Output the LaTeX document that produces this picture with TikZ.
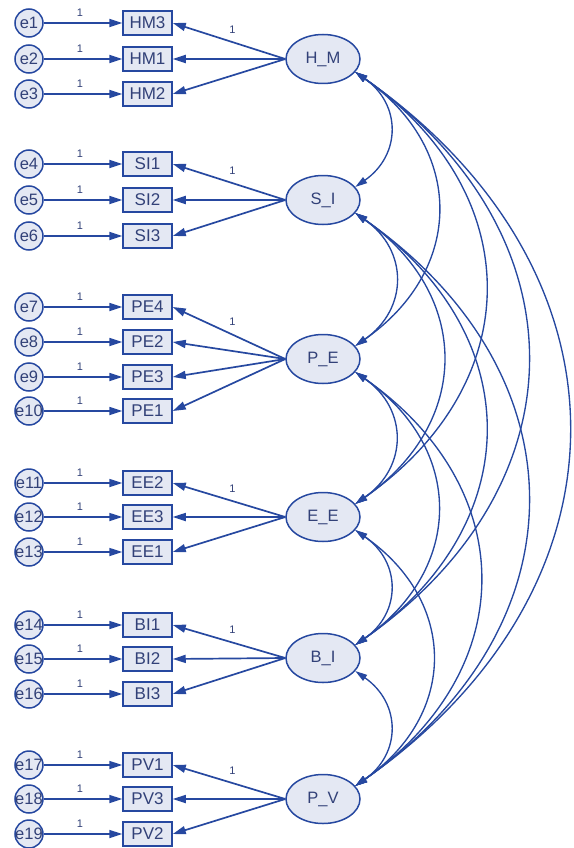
\documentclass[tikz,border=0pt]{standalone}
\usepackage{fontspec}
\setmainfont{Liberation Sans}
\usetikzlibrary{arrows.meta,shapes.geometric}
\definecolor{ln}{RGB}{38,72,160}
\definecolor{fl}{RGB}{228,232,243}
\definecolor{tx}{RGB}{50,65,120}
\newcommand{\indrow}[4]{%
  \node[err] (#1) at (29,#4) {\makebox[0pt]{#2}};
  \node[obs] (#3) at (147.5,#4) {#3};
  \draw[arr] (#1) -- (#3) node[one,pos=0.46,above=6pt]{1};}
\newcommand{\covar}[3]{%
  \draw[cov] (#1.-22) .. controls +({0.4*#3},{0.28*#3}) and +({0.4*#3},{-0.28*#3}) .. (#2.22);}
\begin{document}
\begin{tikzpicture}[x=1pt,y=-1pt,
  obs/.style={draw=ln, fill=fl, line width=1.5pt, minimum width=49pt, minimum height=24pt, inner sep=0pt, text=tx, font=\fontsize{17}{17}\selectfont},
  lat/.style={ellipse, draw=ln, fill=fl, line width=1.5pt, minimum width=74pt, minimum height=49pt, inner sep=0pt, text=tx, font=\fontsize{16.5}{16.5}\selectfont},
  err/.style={circle, draw=ln, fill=fl, line width=1.5pt, minimum size=28pt, inner sep=0pt, text=tx, font=\fontsize{16.5}{16.5}\selectfont},
  arr/.style={draw=ln, line width=1.7pt, -{Triangle[length=13pt,width=8pt]}},
  cov/.style={draw=ln, line width=1.35pt, {Triangle[length=12pt,width=7pt]}-{Triangle[length=12pt,width=7pt]}},
  one/.style={font=\fontsize{11}{11}\selectfont, text=tx, inner sep=0pt}
]
\useasboundingbox (0,0) rectangle (573,848);

% latent factors
\node[lat] (HM) at (323,59) {H\_M};
\node[lat] (SI) at (323,200) {S\_I};
\node[lat] (PE) at (323,359) {P\_E};
\node[lat] (EE) at (323,517) {E\_E};
\node[lat] (BI) at (323,658) {B\_I};
\node[lat] (PV) at (323,799) {P\_V};

% indicators
\indrow{e1}{e1}{HM3}{23}
\indrow{e2}{e2}{HM1}{59}
\indrow{e3}{e3}{HM2}{94}
\indrow{e4}{e4}{SI1}{164}
\indrow{e5}{e5}{SI2}{200}
\indrow{e6}{e6}{SI3}{236}
\indrow{e7}{e7}{PE4}{307}
\indrow{e8}{e8}{PE2}{342}
\indrow{e9}{e9}{PE3}{377}
\indrow{e10}{e10}{PE1}{411}
\indrow{e11}{e11}{EE2}{483}
\indrow{e12}{e12}{EE3}{517}
\indrow{e13}{e13}{EE1}{552}
\indrow{e14}{e14}{BI1}{625}
\indrow{e15}{e15}{BI2}{659}
\indrow{e16}{e16}{BI3}{694}
\indrow{e17}{e17}{PV1}{765}
\indrow{e18}{e18}{PV3}{799}
\indrow{e19}{e19}{PV2}{834}

% loadings
\draw[arr] (HM.west) -- (HM3.east) node[one,pos=0.47,above=8pt]{1};
\draw[arr] (HM.west) -- (HM1.east);
\draw[arr] (HM.west) -- (HM2.east);
\draw[arr] (SI.west) -- (SI1.east) node[one,pos=0.47,above=8pt]{1};
\draw[arr] (SI.west) -- (SI2.east);
\draw[arr] (SI.west) -- (SI3.east);
\draw[arr] (PE.west) -- (PE4.east) node[one,pos=0.47,above=8pt]{1};
\draw[arr] (PE.west) -- (PE2.east);
\draw[arr] (PE.west) -- (PE3.east);
\draw[arr] (PE.west) -- (PE1.east);
\draw[arr] (EE.west) -- (EE2.east) node[one,pos=0.47,above=8pt]{1};
\draw[arr] (EE.west) -- (EE3.east);
\draw[arr] (EE.west) -- (EE1.east);
\draw[arr] (BI.west) -- (BI1.east) node[one,pos=0.47,above=8pt]{1};
\draw[arr] (BI.west) -- (BI2.east);
\draw[arr] (BI.west) -- (BI3.east);
\draw[arr] (PV.west) -- (PV1.east) node[one,pos=0.47,above=8pt]{1};
\draw[arr] (PV.west) -- (PV3.east);
\draw[arr] (PV.west) -- (PV2.east);

% covariances
\covar{HM}{SI}{115}
\covar{HM}{PE}{274}
\covar{HM}{EE}{432}
\covar{HM}{BI}{573}
\covar{HM}{PV}{710}
\covar{SI}{PE}{133}
\covar{SI}{EE}{291}
\covar{SI}{BI}{432}
\covar{SI}{PV}{573}
\covar{PE}{EE}{132}
\covar{PE}{BI}{273}
\covar{PE}{PV}{414}
\covar{EE}{BI}{115}
\covar{EE}{PV}{256}
\covar{BI}{PV}{115}
\end{tikzpicture}
\end{document}
